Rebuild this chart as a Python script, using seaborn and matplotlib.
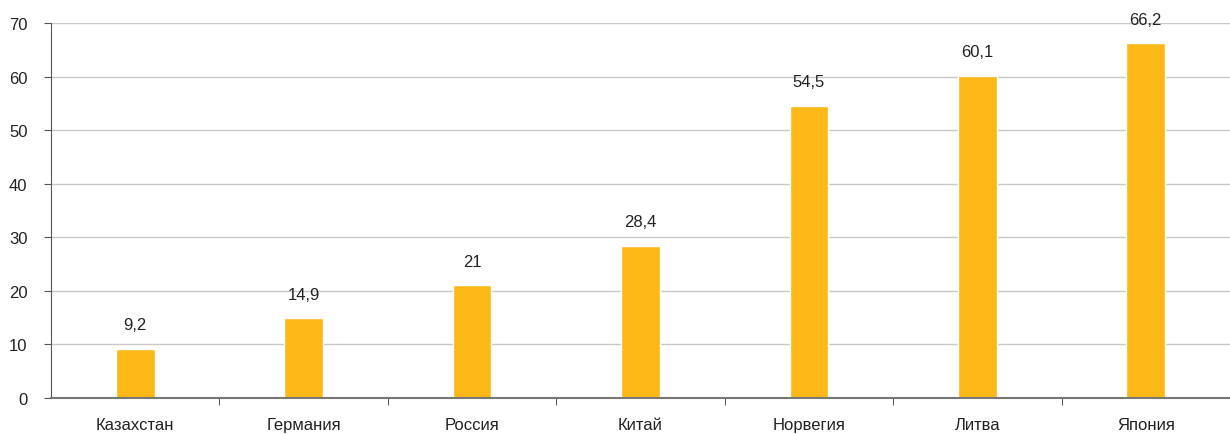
import matplotlib
matplotlib.use("Agg")
import matplotlib.pyplot as plt
import seaborn as sns
import pandas as pd

countries = ["Казахстан", "Германия", "Россия", "Китай", "Норвегия", "Литва", "Япония"]
values = [9.2, 14.9, 21, 28.4, 54.5, 60.1, 66.2]

sns.set_style("white")
plt.rcParams["font.family"] = ["Liberation Sans", "DejaVu Sans"]

df = pd.DataFrame({"country": countries, "value": values})

fig = plt.figure(figsize=(12.3, 4.35), dpi=100)
ax = fig.add_axes([0.0415, 0.0828, 0.9585, 0.862])
sns.barplot(data=df, x="country", y="value", color="#FBB817", width=0.23,
            saturation=1, ax=ax)

ax.set_ylim(0, 70)
ax.set_xlim(-0.5, len(countries) - 0.5)
ax.set_yticks(range(0, 71, 10))
ax.yaxis.grid(True, color="#C8C8C8", linewidth=1)
ax.set_axisbelow(True)
ax.set_xlabel("")
ax.set_ylabel("")

for sp in ["top", "right"]:
    ax.spines[sp].set_visible(False)
ax.spines["left"].set_color("#555555")
ax.spines["bottom"].set_color("#777777")
ax.spines["bottom"].set_linewidth(1.5)

ax.tick_params(axis="y", left=True, length=5, color="#555555", labelsize=12,
               labelcolor="#222222", pad=12)
ax.tick_params(axis="x", which="major", length=0, labelsize=12,
               labelcolor="#222222", pad=14)
ax.set_xticks([i + 0.5 for i in range(len(countries) - 1)], minor=True)
ax.tick_params(axis="x", which="minor", bottom=True, length=5, color="#333333")

for i, v in enumerate(values):
    txt = f"{v:g}".replace(".", ",")
    ax.annotate(txt, (i, v), xytext=(0, 12), textcoords="offset points",
                ha="center", va="bottom", fontsize=12, color="#222222")

fig.savefig("out.png", dpi=100)
